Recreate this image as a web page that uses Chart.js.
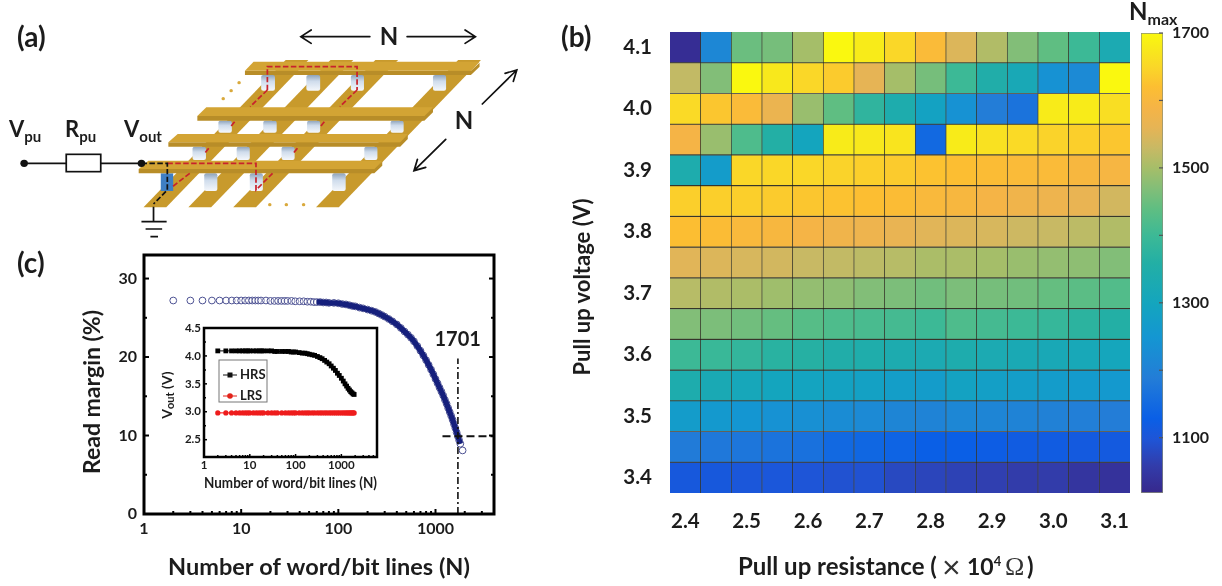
<!DOCTYPE html>
<html>
<head>
<meta charset="utf-8">
<title>Read margin figure</title>
<script src="https://cdn.jsdelivr.net/npm/chart.js@4"></script>
<style>
  html, body { margin: 0; padding: 0; background: #fff; }
  #page { position: relative; width: 1222px; height: 586px; overflow: hidden; font-family: Lato, sans-serif; filter: blur(0.4px); }
  #page canvas { position: absolute; }
  #overlay { position: absolute; left: 0; top: 0; pointer-events: none; }
  #overlay text { font-family: Lato, sans-serif; font-weight: 700; fill: #1c1c1c; }
  #overlay text.sym { font-weight: 400; fill: #333; }
</style>
</head>
<body>
<div id="page">
  <canvas id="marginChart" width="520" height="346" style="left:0;top:240px"></canvas>
  <canvas id="insetChart" width="240" height="184" style="left:150px;top:316px"></canvas>
  <canvas id="heatChart" width="525" height="520" style="left:610px;top:20px"></canvas>
  <canvas id="barChart" width="92" height="490" style="left:1130px;top:20px"></canvas>

  <svg id="overlay" width="1222" height="586" xmlns="http://www.w3.org/2000/svg">
    <defs>
      <linearGradient id="pillar" x1="0" y1="0" x2="0" y2="1">
        <stop offset="0" stop-color="#8ea3bb"/><stop offset=".4" stop-color="#cfdcec"/><stop offset="1" stop-color="#f4f7fb"/>
      </linearGradient>
    </defs>

    <!-- schematic (a), traced coordinates from the crop -->
    <g transform="scale(0.345,0.33333)">
      <g id="strips" fill="#c89a2c">
        <polygon points="416,622 482,622 894,180 828,180"/>
        <polygon points="546,622 612,622 1024,180 958,180"/>
        <polygon points="676,622 742,622 1154,180 1088,180"/>
        <polygon points="916,622 982,622 1394,180 1328,180"/>
      </g>
      <g id="pillars" fill="url(#pillar)">
        <rect x="757" y="225" width="40" height="47" rx="6"/><rect x="888" y="225" width="40" height="47" rx="6"/><rect x="1017" y="225" width="38" height="47" rx="6"/><rect x="1255" y="225" width="38" height="47" rx="6"/>
        <rect x="633" y="362" width="39" height="36" rx="6"/><rect x="763" y="362" width="39" height="36" rx="6"/><rect x="890" y="362" width="38" height="36" rx="6"/><rect x="1132" y="362" width="38" height="36" rx="6"/>
        <rect x="558" y="440" width="39" height="40" rx="6"/><rect x="686" y="440" width="38" height="40" rx="6"/><rect x="816" y="440" width="38" height="40" rx="6"/><rect x="1056" y="440" width="38" height="40" rx="6"/>
        <rect x="592" y="520" width="38" height="53" rx="6"/><rect x="724" y="520" width="38" height="53" rx="6"/><rect x="963" y="520" width="39" height="53" rx="6"/>
        <rect x="466" y="520" width="36" height="53" style="fill:#3f7fc4"/>
      </g>
      <g id="bars">
        <polygon points="710,212 1365,212 1390,188 1390,200 1365,225 710,225" fill="#b88d28"/>
        <polygon points="735,185 1390,185 1365,212 710,212" fill="#d3a434"/>
        <polygon points="572,348 1230,348 1255,325 1255,337 1230,362 572,362" fill="#b88d28"/>
        <polygon points="598,322 1255,322 1230,348 572,348" fill="#d3a434"/>
        <polygon points="488,427 1160,427 1182,405 1182,417 1160,440 488,440" fill="#b88d28"/>
        <polygon points="515,402 1182,402 1160,427 488,427" fill="#d3a434"/>
        <polygon points="402,507 1085,507 1108,485 1108,497 1085,520 402,520" fill="#b88d28"/>
        <polygon points="430,482 1108,482 1085,507 402,507" fill="#d3a434"/>
      </g>
      <g id="paths" fill="none" stroke="#c8222c" stroke-width="5" stroke-dasharray="16 7">
        <path d="M775,270 L775,200 L1035,200 L1035,270"/>
        <path d="M775,270 L725,320"/><path d="M1035,270 L985,320"/>
        <path d="M680,365 L670,378"/><path d="M940,365 L930,378"/>
        <path d="M605,445 L595,458"/><path d="M862,445 L850,460"/>
        <path d="M485,490 L742,490 L742,570 L790,520"/><path d="M550,520 L500,560"/>
      </g>
      <path d="M410,490 L485,490 L485,570 L445,612" fill="none" stroke="#111" stroke-width="5" stroke-dasharray="16 7"/>
      <g id="wires" stroke="#111" stroke-width="5" fill="none">
        <path d="M70,490 L192,490 M292,490 L410,490"/>
        <rect x="192" y="463" width="100" height="52" fill="#fff"/>
        <path d="M445,620 L445,665 M410,665 L483,665 M422,687 L470,687 M436,710 L458,710"/>
      </g>
      <circle cx="70" cy="490" r="11" fill="#111"/><circle cx="410" cy="490" r="11" fill="#111"/>
      <g fill="#d9a93c">
        <circle cx="693" cy="248" r="5"/><circle cx="670" cy="272" r="5"/><circle cx="647" cy="296" r="5"/>
        <circle cx="782" cy="614" r="5"/><circle cx="830" cy="614" r="5"/><circle cx="880" cy="614" r="5"/>
      </g>
      <g stroke="#111" stroke-width="5" fill="none" stroke-linecap="round">
        <path d="M1072,110 L872,110 M902,90 L872,110 L902,130"/>
        <path d="M1180,110 L1378,110 M1348,90 L1378,110 L1348,130"/>
        <path d="M1398,312 L1498,210 M1464,220 L1498,210 L1488,244"/>
        <path d="M1292,418 L1200,512 M1234,502 L1200,512 L1210,478"/>
      </g>
    </g>
    <text x="389" y="45" font-size="24" text-anchor="middle">N</text>
    <text x="464" y="129" font-size="24" text-anchor="middle">N</text>
    <text x="9" y="137" font-size="22">V<tspan font-size="15" dy="5">pu</tspan></text>
    <text x="65" y="137" font-size="22">R<tspan font-size="15" dy="5">pu</tspan></text>
    <text x="124" y="137" font-size="22">V<tspan font-size="15" dy="5">out</tspan></text>

    <text x="17" y="47" font-size="28">(a)</text>
    <text x="561" y="47" font-size="28">(b)</text>
    <text x="17" y="273" font-size="28">(c)</text>

    <!-- inset legend -->
    <rect x="219" y="360" width="48" height="42" fill="#fff" stroke="#777" stroke-width="1"/>
    <path d="M223,375 L237,375" stroke="#111" stroke-width="1"/><rect x="227.5" y="372.5" width="5" height="5" fill="#111"/>
    <text x="240" y="378.5" font-size="13">HRS</text>
    <path d="M223,396 L237,396" stroke="#e2231a" stroke-width="1"/><circle cx="230" cy="396" r="2.8" fill="#e2231a"/>
    <text x="240" y="399.5" font-size="13">LRS</text>

    <text x="457.7" y="346" font-size="20" text-anchor="middle">1701</text>
    <text transform="translate(100,392) rotate(-90)" font-size="23" text-anchor="middle">Read margin (%)</text>
    <text transform="translate(172,395) rotate(-90)" font-size="14" text-anchor="middle">V<tspan font-size="11" dy="2">out</tspan><tspan dy="-2"> (V)</tspan></text>
    <text transform="translate(590,287) rotate(-90)" font-size="22" text-anchor="middle">Pull up voltage (V)</text>
    <text x="738" y="575" font-size="24">Pull up resistance (</text>
    <text class="sym" x="942" y="578" font-size="32" font-family="Liberation Sans" style="font-family:'Liberation Sans'">×</text>
    <text x="967" y="575" font-size="23">10<tspan font-size="13" dy="-9">4</tspan></text>
    <text class="sym" x="1005" y="575" font-size="26" style="font-family:'Liberation Serif'">Ω</text>
    <text x="1027" y="575" font-size="24">)</text>
    <text x="1129" y="20" font-size="24">N<tspan font-size="16" dy="5">max</tspan></text>
  </svg>
</div>

<script>
// (c) read margin against array size
const lineCounts = [2,3,4,5,6,7,8,9,10,11,12,13,14,15,16,18,20,22,24,26,28,30,33,36,40,44,48,52,56,60,65,70,75,80,90,100,110,120,130,140,150,165,180,200,220,240,260,280,300,330,360,400,440,480,520,560,600,650,700,750,800,850,900,950,1000,1050,1100,1150,1200,1250,1300,1350,1400,1450,1500,1550,1600,1650,1701,1750,1800,1900];
const readMargin = [27.2,27.2,27.2,27.2,27.2,27.2,27.2,27.2,27.2,27.2,27.2,27.2,27.2,27.2,27.2,27.2,27.15,27.15,27.15,27.15,27.15,27.15,27.15,27.1,27.1,27.1,27.05,27.05,27.0,27.0,27.0,26.95,26.95,26.9,26.9,26.85,26.75,26.7,26.6,26.5,26.45,26.3,26.2,26.05,25.9,25.75,25.55,25.35,25.15,24.85,24.55,24.15,23.7,23.25,22.85,22.45,22.0,21.4,20.8,20.2,19.6,19.0,18.4,17.8,17.2,16.65,16.1,15.6,15.1,14.55,14.05,13.5,13.0,12.5,12.0,11.45,10.95,10.4,9.9,9.4,8.95,8.1];
const curveFrom = 60, curveTo = 1800; // merged into a solid band between these
const crossX = [1701, 1701], crossXMargin = [0, 19.8];
const crossY = [1180, 4000], crossYMargin = [9.9, 9.9];
const marginXTicks = [1, 10, 100, 1000];
const marginXMinor = [2,3,4,5,6,7,8,9,20,30,40,50,60,70,80,90,200,300,400,500,600,700,800,900,2000,3000];
const marginYTicks = [0, 10, 20, 30];
const marginYMinor = [5, 15, 25];

// inset
const insetCounts = [2,3,4,5,6,7,8,9,10,12,14,16,18,20,25,30,35,40,50,60,70,80,90,100,120,140,160,180,200,230,260,300,340,380,430,480,540,600,670,740,820,900,1000,1100,1200,1300,1400,1500,1600,1700,1800,1900];
const hrsVout = [4.09,4.09,4.09,4.09,4.09,4.09,4.09,4.09,4.09,4.09,4.09,4.09,4.09,4.09,4.09,4.09,4.08,4.08,4.08,4.08,4.08,4.07,4.07,4.07,4.06,4.05,4.05,4.04,4.03,4.02,4.01,3.99,3.97,3.95,3.92,3.89,3.86,3.82,3.78,3.74,3.69,3.65,3.60,3.55,3.50,3.46,3.42,3.39,3.36,3.34,3.32,3.31];
const lrsVout = [2.98,2.98,2.98,2.98,2.98,2.98,2.98,2.98,2.98,2.98,2.98,2.98,2.98,2.98,2.98,2.98,2.98,2.98,2.98,2.98,2.98,2.98,2.98,2.98,2.98,2.98,2.98,2.98,2.98,2.98,2.98,2.98,2.98,2.98,2.98,2.98,2.98,2.98,2.98,2.98,2.98,2.98,2.98,2.98,2.98,2.98,2.98,2.98,2.98,2.98,2.98,2.98];
const insetXTicks = [1, 10, 100, 1000];
const insetXMinor = [2,3,4,5,6,7,8,9,20,30,40,50,60,70,80,90,200,300,400,500,600,700,800,900,2000,3000,4000,5000];
const insetYTicks = [2.5, 3, 3.5, 4, 4.5];
const insetYMinor = [2.75, 3.25, 3.75, 4.25];

// (b) Nmax map
const resistanceCols = ['2.4','2.45','2.5','2.55','2.6','2.65','2.7','2.75','2.8','2.85','2.9','2.95','3.0','3.05','3.1'];
const resistanceTicks = ['2.4','2.5','2.6','2.7','2.8','2.9','3.0','3.1'];
const voltageRows = [4.1,4.05,4.0,3.95,3.9,3.85,3.8,3.75,3.7,3.65,3.6,3.55,3.5,3.45,3.4];
const voltageTicks = [3.4,3.5,3.6,3.7,3.8,3.9,4.0,4.1];
const nmaxRows = [
  [1030,1215,1450,1460,1500,1700,1680,1650,1610,1550,1510,1470,1440,1400,1330],
  [1525,1470,1700,1675,1650,1635,1560,1500,1460,1400,1350,1320,1240,1220,1700],
  [1655,1630,1610,1570,1490,1440,1380,1340,1290,1240,1190,1170,1680,1680,1660],
  [1590,1490,1420,1360,1300,1680,1675,1670,1150,1680,1665,1655,1645,1640,1630],
  [1340,1270,1650,1650,1650,1645,1640,1635,1625,1620,1615,1610,1610,1600,1595],
  [1640,1640,1640,1635,1630,1625,1620,1615,1605,1600,1590,1580,1575,1565,1540],
  [1620,1615,1605,1600,1590,1580,1575,1565,1555,1550,1545,1535,1530,1520,1510],
  [1555,1550,1545,1540,1530,1525,1520,1515,1505,1505,1500,1490,1485,1480,1470],
  [1515,1510,1505,1495,1485,1480,1470,1465,1455,1465,1460,1455,1445,1435,1425],
  [1470,1465,1455,1445,1430,1420,1415,1410,1400,1420,1410,1400,1390,1375,1360],
  [1400,1395,1385,1370,1365,1350,1345,1335,1330,1340,1330,1325,1320,1315,1305],
  [1340,1325,1310,1300,1295,1290,1285,1275,1270,1290,1280,1275,1270,1265,1260],
  [1270,1260,1250,1240,1235,1225,1220,1210,1205,1215,1210,1205,1200,1195,1190],
  [1185,1180,1175,1170,1165,1150,1145,1140,1130,1130,1125,1120,1120,1115,1115],
  [1110,1110,1105,1105,1100,1095,1095,1080,1075,1070,1065,1060,1060,1045,1040]
];

// colour bar
const barTicks = [1100, 1300, 1500, 1700];
const barMinor = [1200, 1400, 1600];
const barMin = 1018, barMax = 1700;
const stopValues = [1020,1060,1100,1130,1190,1250,1300,1360,1400,1440,1470,1500,1530,1560,1590,1620,1650,1680,1700];
const stopColors = [
  [55,40,140],[50,60,170],[30,85,215],[10,95,230],[35,125,215],[20,150,210],[20,165,190],[35,175,165],[60,185,150],[95,190,130],
  [130,190,120],[165,190,105],[200,185,100],[230,180,85],[245,180,70],[252,190,50],[250,215,40],[248,235,25],[250,248,15]
];

function colorFor(v) {
  let i = 0;
  while (i < stopValues.length - 2 && v > stopValues[i + 1]) i++;
  const t = Math.min(1, Math.max(0, (v - stopValues[i]) / (stopValues[i + 1] - stopValues[i])));
  const c = stopColors[i].map((a, k) => Math.round(a + (stopColors[i + 1][k] - a) * t));
  return `rgb(${c[0]},${c[1]},${c[2]})`;
}

const pairs = (xs, ys) => xs.map((x, i) => ({ x, y: ys[i] }));
const setTicks = list => scale => { scale.ticks = list.map(value => ({ value })); };
// keep the plot area where it is in the figure, tick padding must not push it
const fixed = size => scale => {
  if (scale.isHorizontal()) scale.height = size; else scale.width = size;
  scale.paddingTop = scale.paddingBottom = scale.paddingLeft = scale.paddingRight = 0;
};

// ticks point into the plot, frame on top
const framePlugin = {
  id: 'frame',
  afterDraw(chart, args, o) {
    const { ctx, chartArea: a, scales } = chart;
    ctx.save();
    ctx.strokeStyle = o.color || '#000';
    const mark = (x1, y1, x2, y2, w) => { ctx.lineWidth = w; ctx.beginPath(); ctx.moveTo(x1, y1); ctx.lineTo(x2, y2); ctx.stroke(); };
    (o.xMajor || []).forEach(v => { const p = scales.x.getPixelForValue(v); mark(p, a.bottom, p, a.bottom - o.major, o.tickWidth); });
    (o.xMinor || []).forEach(v => { const p = scales.x.getPixelForValue(v); mark(p, a.bottom, p, a.bottom - o.minor, o.tickWidth); });
    [[o.yMajor, o.major], [o.yMinor, o.minor]].forEach(([list, len]) => {
      (list || []).forEach(v => {
        const p = scales.y.getPixelForValue(v);
        if (o.left) mark(a.left, p, a.left + len, p, o.tickWidth);
        if (o.right) mark(a.right, p, a.right - len, p, o.tickWidth);
      });
    });
    if (o.width) {
      ctx.lineWidth = o.width;
      ctx.strokeRect(a.left, a.top, a.right - a.left, a.bottom - a.top);
    }
    ctx.restore();
  }
};
Chart.register(framePlugin);

const textColor = '#1c1c1c';
Chart.defaults.font.family = 'Lato';
Chart.defaults.font.weight = 'bold';
Chart.defaults.color = textColor;
Chart.defaults.animation = false;
Chart.defaults.plugins.legend.display = false;
Chart.defaults.plugins.tooltip.enabled = false;
const noGrid = { display: false, drawTicks: false };

new Chart(document.getElementById('marginChart'), {
  type: 'scatter',
  data: {
    datasets: [
      { label: 'crossV', data: pairs(crossX, crossXMargin), showLine: true, borderColor: '#111', borderWidth: 1.6, borderDash: [7, 3, 2, 3], pointRadius: 0 },
      { label: 'crossH', data: pairs(crossY, crossYMargin), showLine: true, borderColor: '#111', borderWidth: 2, borderDash: [8, 4], pointRadius: 0 },
      { label: 'curve', data: pairs(lineCounts, readMargin).filter(p => p.x >= curveFrom && p.x <= curveTo), showLine: true, borderColor: '#151f7c', borderWidth: 5.5, pointRadius: 0 },
      {
        label: 'Read margin', data: pairs(lineCounts, readMargin), pointRadius: 3.4, pointBorderWidth: 1, pointBorderColor: '#4c5192',
        pointBackgroundColor: c => (c.dataIndex === lineCounts.length - 1 ? '#fff' : 'rgba(255,255,255,0.35)')
      }
    ]
  },
  options: {
    responsive: false,
    layout: { autoPadding: false, padding: { top: 15, right: 26 } },
    scales: {
      x: {
        type: 'logarithmic', min: 1, max: 4000,
        afterBuildTicks: setTicks(marginXTicks), afterFit: fixed(72),
        grid: noGrid, border: { display: false },
        ticks: { autoSkip: false, maxRotation: 0, padding: 5, font: { size: 16 }, callback: v => v },
        title: { display: true, text: 'Number of word/bit lines (N)', font: { size: 23.5 }, padding: { top: 0, bottom: 4 } }
      },
      y: {
        min: 0, max: 33,
        afterBuildTicks: setTicks(marginYTicks), afterFit: fixed(144),
        grid: noGrid, border: { display: false },
        ticks: { autoSkip: false, padding: 7, font: { size: 16 } }
      }
    },
    plugins: { frame: { width: 3, tickWidth: 2, major: 5, minor: 3, left: true, right: true, xMajor: marginXTicks, xMinor: marginXMinor, yMajor: marginYTicks, yMinor: marginYMinor } }
  }
});

new Chart(document.getElementById('insetChart'), {
  type: 'scatter',
  data: {
    datasets: [
      { label: 'HRS', data: pairs(insetCounts, hrsVout), showLine: true, borderColor: '#000', borderWidth: 1, pointStyle: 'rect', pointRadius: 3.4, pointBorderWidth: 0, pointBackgroundColor: '#000' },
      { label: 'LRS', data: pairs(insetCounts, lrsVout), showLine: true, borderColor: '#f00', borderWidth: 1, pointRadius: 2.6, pointBorderWidth: 0, pointBackgroundColor: '#ee1c1c' }
    ]
  },
  options: {
    responsive: false,
    layout: { autoPadding: false, padding: { top: 12, right: 13 } },
    scales: {
      x: {
        type: 'logarithmic', min: 1, max: 6000,
        afterBuildTicks: setTicks(insetXTicks), afterFit: fixed(43),
        grid: noGrid, border: { display: false },
        ticks: { autoSkip: false, maxRotation: 0, padding: 1, font: { size: 11.5 }, callback: v => v },
        title: { display: true, text: 'Number of word/bit lines (N)', font: { size: 15.5 }, padding: { top: 0, bottom: 8 } }
      },
      y: {
        min: 2.19, max: 4.5,
        afterBuildTicks: setTicks(insetYTicks), afterFit: fixed(54),
        grid: noGrid, border: { display: false },
        ticks: { autoSkip: false, padding: 3, font: { size: 11.5 }, callback: v => v.toFixed(1) }
      }
    },
    plugins: { frame: { width: 2.5, tickWidth: 1.5, major: 3, minor: 2, left: true, xMajor: insetXTicks, xMinor: insetXMinor, yMajor: insetYTicks, yMinor: insetYMinor } }
  }
});

new Chart(document.getElementById('heatChart'), {
  type: 'bar',
  data: {
    labels: resistanceCols,
    datasets: nmaxRows.map((row, k) => ({
      label: String(voltageRows[k]),
      data: row.map(() => [voltageRows[k] - 0.025, voltageRows[k] + 0.025]),
      backgroundColor: row.map(colorFor),
      borderColor: 'rgba(15,15,0,0.72)',
      borderSkipped: false,
      borderWidth: c => ({
        top: k > 0 ? 0.9 : 0,
        bottom: k < nmaxRows.length - 1 ? 0.9 : 0,
        left: c.dataIndex > 0 ? 0.7 : 0,
        right: c.dataIndex < row.length - 1 ? 0.7 : 0
      }),
      barPercentage: 1,
      categoryPercentage: 1,
      grouped: false
    }))
  },
  options: {
    responsive: false,
    layout: { autoPadding: false, padding: { top: 12, right: 5 } },
    scales: {
      x: {
        grid: noGrid, border: { display: false }, afterFit: fixed(47),
        ticks: {
          autoSkip: false, maxRotation: 0, padding: 16, font: { size: 20.5 },
          callback(v) { const s = this.getLabelForValue(v); return resistanceTicks.includes(s) ? s : ''; }
        }
      },
      y: {
        min: 3.375, max: 4.125,
        afterBuildTicks: setTicks(voltageTicks), afterFit: fixed(60),
        grid: noGrid, border: { display: false },
        ticks: { autoSkip: false, padding: 18, font: { size: 20.5 }, callback: v => v.toFixed(1) }
      }
    }
  }
});

new Chart(document.getElementById('barChart'), {
  type: 'bar',
  data: {
    labels: ['Nmax'],
    datasets: [{
      label: 'Nmax',
      data: [[barMin, barMax]],
      borderColor: '#8a8f7a',
      borderWidth: 1,
      borderSkipped: false,
      barPercentage: 1,
      categoryPercentage: 1,
      backgroundColor(c) {
        const s = c.chart.scales.y;
        const from = s ? s.getPixelForValue(barMin) : NaN, to = s ? s.getPixelForValue(barMax) : NaN;
        if (!isFinite(from) || !isFinite(to)) return '#888';
        const g = c.chart.ctx.createLinearGradient(0, from, 0, to);
        stopValues.forEach(v => g.addColorStop((v - stopValues[0]) / (barMax - stopValues[0]), colorFor(v)));
        return g;
      }
    }]
  },
  options: {
    responsive: false,
    layout: { autoPadding: false, padding: { top: 13, left: 11, bottom: 17 } },
    scales: {
      x: { display: false },
      y: {
        position: 'right', min: barMin, max: barMax,
        afterBuildTicks: setTicks(barTicks), afterFit: fixed(59),
        grid: noGrid, border: { display: false },
        ticks: { autoSkip: false, padding: 9, font: { size: 16 }, callback: v => v }
      }
    },
    plugins: { frame: { color: '#555', tickWidth: 1.2, major: 4, minor: 4, right: true, yMajor: barTicks, yMinor: barMinor } }
  }
});
</script>
</body>
</html>
